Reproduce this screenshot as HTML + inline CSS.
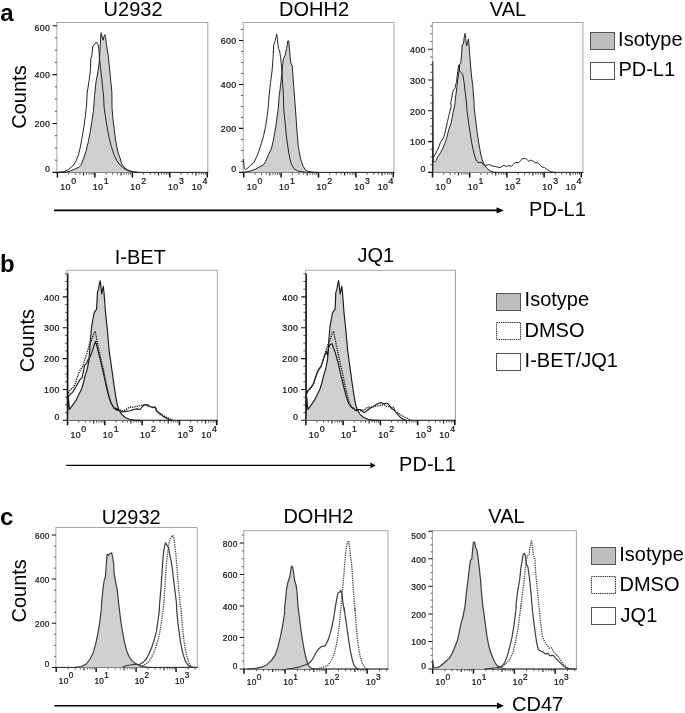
<!DOCTYPE html>
<html><head><meta charset="utf-8"><title>Figure</title>
<style>
html,body{margin:0;padding:0;background:#fff;}
body{width:685px;height:713px;overflow:hidden;font-family:"Liberation Sans",sans-serif;}
svg{display:block;will-change:transform;filter:grayscale(1);}
svg text{font-family:"Liberation Sans",sans-serif;}
svg text.t{fill:#111;stroke:#111;stroke-width:.22px;}
</style></head><body>
<svg width="685" height="713" viewBox="0 0 685 713">
<rect width="685" height="713" fill="#fff"/>
<rect x="56.85" y="22.5" width="150.95" height="149.90" fill="none" stroke="#a6a6a6" stroke-width="1"/>
<path d="M56.45,172.4H208.3" stroke="#2a2a2a" stroke-width="1.0"/>
<path d="M57.40,172.4v5.00M94.87,172.4v5.00M132.34,172.4v5.00M169.81,172.4v5.00M207.28,172.4v5.00" stroke="#0c0c0c" stroke-width="1.50"/>
<path d="M83.59,172.4v3.20M121.06,172.4v3.20M158.53,172.4v3.20M196.00,172.4v3.20" stroke="#1a1a1a" stroke-width="1.15"/>
<path d="M68.68,172.4v2.30M75.28,172.4v2.30M79.96,172.4v2.30M86.56,172.4v2.30M89.07,172.4v2.30M91.24,172.4v2.30M93.16,172.4v2.30M106.15,172.4v2.30M112.75,172.4v2.30M117.43,172.4v2.30M124.03,172.4v2.30M126.54,172.4v2.30M128.71,172.4v2.30M130.63,172.4v2.30M143.62,172.4v2.30M150.22,172.4v2.30M154.90,172.4v2.30M161.50,172.4v2.30M164.01,172.4v2.30M166.18,172.4v2.30M168.10,172.4v2.30M181.09,172.4v2.30M187.69,172.4v2.30M192.37,172.4v2.30M198.97,172.4v2.30M201.48,172.4v2.30M203.65,172.4v2.30M205.57,172.4v2.30" stroke="#2a2a2a" stroke-width="0.80"/>
<text x="60.33" y="189.60" font-size="8.80" letter-spacing="0.40" class="t">10</text>
<text x="71.20" y="183.80" font-size="8.80" class="t">0</text>
<text x="92.80" y="189.60" font-size="8.80" letter-spacing="0.40" class="t">10</text>
<text x="103.67" y="183.80" font-size="8.80" class="t">1</text>
<text x="130.27" y="189.60" font-size="8.80" letter-spacing="0.40" class="t">10</text>
<text x="141.14" y="183.80" font-size="8.80" class="t">2</text>
<text x="168.04" y="189.60" font-size="8.80" letter-spacing="0.40" class="t">10</text>
<text x="178.91" y="183.80" font-size="8.80" class="t">3</text>
<text x="191.71" y="189.60" font-size="8.80" letter-spacing="0.40" class="t">10</text>
<text x="202.58" y="183.80" font-size="8.80" class="t">4</text>
<text x="50.30" y="30.90" font-size="8.80" letter-spacing="0.40" text-anchor="end" class="t">600</text>
<text x="50.30" y="78.30" font-size="8.80" letter-spacing="0.40" text-anchor="end" class="t">400</text>
<text x="50.30" y="127.20" font-size="8.80" letter-spacing="0.40" text-anchor="end" class="t">200</text>
<text x="50.30" y="172.20" font-size="8.80" letter-spacing="0.40" text-anchor="end" class="t">0</text>
<path d="M52.55,25.70h4.30M52.55,74.60h4.30M52.55,123.50h4.30M52.55,172.40h4.30" stroke="#0c0c0c" stroke-width="1.10"/>
<path d="M54.75,160.18h2.10M54.75,147.95h2.10M54.75,135.73h2.10M54.75,111.28h2.10M54.75,99.05h2.10M54.75,86.83h2.10M54.75,62.38h2.10M54.75,50.15h2.10M54.75,37.93h2.10" stroke="#3a3a3a" stroke-width="0.85"/>
<path d="M57.6,172.4 L65.8,172.2 L70.8,170.9 L75.2,168.8 L79.0,167.2 L80.9,165.3 L83.4,159.0 L85.9,151.5 L88.4,141.4 L90.3,131.4 L91.9,121.3 L93.4,111.3 L94.6,95.2 L96.1,81.3 L98.0,71.2 L99.2,62.4 L99.9,52.3 L100.5,39.7 L101.1,32.7 L102.2,37.1 L103.0,40.3 L103.9,36.5 L104.9,34.6 L105.8,39.0 L106.4,44.7 L108.1,54.8 L109.3,66.2 L110.6,78.8 L111.9,92.7 L112.0,107.5 L112.9,118.8 L114.2,128.9 L115.4,138.9 L117.0,147.7 L118.5,154.0 L120.4,159.0 L121.7,164.0 L124.2,167.2 L127.3,169.7 L131.1,171.3 L134.9,172.2 L139.9,172.4" fill="#d0d0d0" stroke="#1a1a1a" stroke-width="0.95" stroke-linejoin="round"/>
<path d="M57.6,172.4 L63.3,171.8 L68.3,169.7 L72.7,165.9 L75.8,161.5 L78.4,155.2 L80.2,147.7 L82.1,137.7 L84.0,126.4 L85.3,116.3 L86.5,106.3 L87.2,92.7 L89.2,80.1 L90.4,70.0 L90.8,58.6 L91.7,56.1 L92.9,46.0 L94.8,44.1 L96.3,42.0 L98.0,44.7 L98.9,49.8 L99.6,59.9 L101.1,72.5 L102.4,85.1 L103.7,97.8 L104.1,107.5 L105.4,116.3 L107.2,127.6 L109.1,137.7 L111.6,147.7 L114.2,155.2 L116.7,160.3 L119.2,164.0 L122.3,167.2 L126.1,169.7 L129.8,171.3 L133.6,172.1 L138.0,172.4" fill="none" stroke="#1a1a1a" stroke-width="0.95" stroke-linejoin="round"/>
<rect x="243.2" y="22.5" width="150.80" height="149.90" fill="none" stroke="#a6a6a6" stroke-width="1"/>
<path d="M242.79999999999998,172.4H394.5" stroke="#2a2a2a" stroke-width="1.0"/>
<path d="M243.70,172.4v5.00M281.10,172.4v5.00M318.50,172.4v5.00M355.90,172.4v5.00M393.30,172.4v5.00" stroke="#0c0c0c" stroke-width="1.50"/>
<path d="M269.84,172.4v3.20M307.24,172.4v3.20M344.64,172.4v3.20M382.04,172.4v3.20" stroke="#1a1a1a" stroke-width="1.15"/>
<path d="M254.96,172.4v2.30M261.54,172.4v2.30M266.22,172.4v2.30M272.80,172.4v2.30M275.31,172.4v2.30M277.48,172.4v2.30M279.39,172.4v2.30M292.36,172.4v2.30M298.94,172.4v2.30M303.62,172.4v2.30M310.20,172.4v2.30M312.71,172.4v2.30M314.88,172.4v2.30M316.79,172.4v2.30M329.76,172.4v2.30M336.34,172.4v2.30M341.02,172.4v2.30M347.60,172.4v2.30M350.11,172.4v2.30M352.28,172.4v2.30M354.19,172.4v2.30M367.16,172.4v2.30M373.74,172.4v2.30M378.42,172.4v2.30M385.00,172.4v2.30M387.51,172.4v2.30M389.68,172.4v2.30M391.59,172.4v2.30" stroke="#2a2a2a" stroke-width="0.80"/>
<text x="246.63" y="189.60" font-size="8.80" letter-spacing="0.40" class="t">10</text>
<text x="257.50" y="183.80" font-size="8.80" class="t">0</text>
<text x="279.03" y="189.60" font-size="8.80" letter-spacing="0.40" class="t">10</text>
<text x="289.90" y="183.80" font-size="8.80" class="t">1</text>
<text x="316.43" y="189.60" font-size="8.80" letter-spacing="0.40" class="t">10</text>
<text x="327.30" y="183.80" font-size="8.80" class="t">2</text>
<text x="354.13" y="189.60" font-size="8.80" letter-spacing="0.40" class="t">10</text>
<text x="365.00" y="183.80" font-size="8.80" class="t">3</text>
<text x="377.73" y="189.60" font-size="8.80" letter-spacing="0.40" class="t">10</text>
<text x="388.60" y="183.80" font-size="8.80" class="t">4</text>
<text x="236.65" y="44.20" font-size="8.80" letter-spacing="0.40" text-anchor="end" class="t">600</text>
<text x="236.65" y="88.20" font-size="8.80" letter-spacing="0.40" text-anchor="end" class="t">400</text>
<text x="236.65" y="132.10" font-size="8.80" letter-spacing="0.40" text-anchor="end" class="t">200</text>
<text x="236.65" y="172.20" font-size="8.80" letter-spacing="0.40" text-anchor="end" class="t">0</text>
<path d="M238.90,40.50h4.30M238.90,84.50h4.30M238.90,128.40h4.30M238.90,172.40h4.30" stroke="#0c0c0c" stroke-width="1.10"/>
<path d="M241.10,161.41h2.10M241.10,150.42h2.10M241.10,139.43h2.10M241.10,117.45h2.10M241.10,106.46h2.10M241.10,95.47h2.10M241.10,73.49h2.10M241.10,62.50h2.10M241.10,51.51h2.10M241.10,29.53h2.10" stroke="#3a3a3a" stroke-width="0.85"/>
<path d="M243.3,172.4 L245.5,172.2 L250.6,170.9 L255.6,169.1 L260.0,166.5 L263.7,164.7 L265.6,161.5 L268.1,155.2 L271.3,149.0 L273.1,141.4 L275.0,131.4 L276.7,120.1 L278.2,108.8 L279.0,97.8 L280.6,85.1 L281.9,72.5 L282.8,63.7 L283.4,58.6 L285.1,55.5 L286.6,48.5 L287.8,40.9 L288.7,40.9 L289.5,49.8 L290.4,59.9 L291.0,63.7 L292.2,65.6 L292.9,75.0 L293.8,87.7 L294.8,100.3 L295.5,110.0 L296.4,122.6 L297.3,135.2 L298.3,146.4 L299.8,155.2 L301.4,161.5 L303.3,166.5 L305.2,169.7 L307.7,171.3 L312.1,172.2 L318.4,172.4" fill="#d0d0d0" stroke="#1a1a1a" stroke-width="0.95" stroke-linejoin="round"/>
<path d="M243.3,159.0 L244.3,168.4 L245.5,169.7 L248.0,167.8 L250.6,165.3 L253.7,162.8 L256.2,157.8 L258.7,151.5 L261.2,143.9 L263.7,135.2 L265.6,126.4 L267.1,116.3 L268.4,106.3 L268.9,97.8 L270.5,82.6 L272.0,71.2 L273.1,57.4 L273.7,44.7 L275.2,40.9 L276.7,34.0 L277.5,39.7 L278.4,48.5 L279.6,51.0 L280.6,57.4 L281.5,66.2 L282.4,78.8 L283.4,95.2 L283.8,110.0 L285.1,122.6 L286.3,135.2 L287.6,145.2 L289.2,155.2 L290.7,162.2 L292.6,166.5 L294.5,169.1 L297.6,170.9 L302.0,171.8 L306.4,172.3 L313.3,172.4" fill="none" stroke="#1a1a1a" stroke-width="0.95" stroke-linejoin="round"/>
<rect x="432.4" y="22.5" width="150.50" height="149.90" fill="none" stroke="#a6a6a6" stroke-width="1"/>
<path d="M432.0,172.4H583.4" stroke="#2a2a2a" stroke-width="1.0"/>
<path d="M432.50,172.4v5.00M469.70,172.4v5.00M506.90,172.4v5.00M544.10,172.4v5.00M581.30,172.4v5.00" stroke="#0c0c0c" stroke-width="1.50"/>
<path d="M458.50,172.4v3.20M495.70,172.4v3.20M532.90,172.4v3.20M570.10,172.4v3.20" stroke="#1a1a1a" stroke-width="1.15"/>
<path d="M443.70,172.4v2.30M450.25,172.4v2.30M454.90,172.4v2.30M461.45,172.4v2.30M463.94,172.4v2.30M466.09,172.4v2.30M468.00,172.4v2.30M480.90,172.4v2.30M487.45,172.4v2.30M492.10,172.4v2.30M498.65,172.4v2.30M501.14,172.4v2.30M503.29,172.4v2.30M505.20,172.4v2.30M518.10,172.4v2.30M524.65,172.4v2.30M529.30,172.4v2.30M535.85,172.4v2.30M538.34,172.4v2.30M540.49,172.4v2.30M542.40,172.4v2.30M555.30,172.4v2.30M561.85,172.4v2.30M566.50,172.4v2.30M573.05,172.4v2.30M575.54,172.4v2.30M577.69,172.4v2.30M579.60,172.4v2.30" stroke="#2a2a2a" stroke-width="0.80"/>
<text x="435.43" y="189.60" font-size="8.80" letter-spacing="0.40" class="t">10</text>
<text x="446.30" y="183.80" font-size="8.80" class="t">0</text>
<text x="467.63" y="189.60" font-size="8.80" letter-spacing="0.40" class="t">10</text>
<text x="478.50" y="183.80" font-size="8.80" class="t">1</text>
<text x="504.83" y="189.60" font-size="8.80" letter-spacing="0.40" class="t">10</text>
<text x="515.70" y="183.80" font-size="8.80" class="t">2</text>
<text x="542.33" y="189.60" font-size="8.80" letter-spacing="0.40" class="t">10</text>
<text x="553.20" y="183.80" font-size="8.80" class="t">3</text>
<text x="565.73" y="189.60" font-size="8.80" letter-spacing="0.40" class="t">10</text>
<text x="576.60" y="183.80" font-size="8.80" class="t">4</text>
<text x="425.85" y="52.90" font-size="8.80" letter-spacing="0.40" text-anchor="end" class="t">400</text>
<text x="425.85" y="83.70" font-size="8.80" letter-spacing="0.40" text-anchor="end" class="t">300</text>
<text x="425.85" y="114.50" font-size="8.80" letter-spacing="0.40" text-anchor="end" class="t">200</text>
<text x="425.85" y="145.30" font-size="8.80" letter-spacing="0.40" text-anchor="end" class="t">100</text>
<text x="425.85" y="172.20" font-size="8.80" letter-spacing="0.40" text-anchor="end" class="t">0</text>
<path d="M428.10,49.20h4.30M428.10,80.00h4.30M428.10,110.80h4.30M428.10,141.60h4.30M428.10,172.40h4.30" stroke="#0c0c0c" stroke-width="1.10"/>
<path d="M430.30,164.70h2.10M430.30,157.00h2.10M430.30,149.30h2.10M430.30,133.90h2.10M430.30,126.20h2.10M430.30,118.50h2.10M430.30,103.10h2.10M430.30,95.40h2.10M430.30,87.70h2.10M430.30,72.30h2.10M430.30,64.60h2.10M430.30,56.90h2.10M430.30,41.50h2.10M430.30,33.80h2.10M430.30,26.10h2.10" stroke="#3a3a3a" stroke-width="0.85"/>
<path d="M432.45,61.5L432.15,172.4L433.75,172.4L433.35,61.5Z" fill="#0c0c0c"/>
<path d="M432.9,172.4 L433.0,160.3 L434.3,162.2 L436.2,160.3 L438.0,156.5 L440.6,152.7 L443.1,147.7 L444.9,143.3 L446.8,137.7 L448.7,130.1 L451.2,122.6 L453.1,112.5 L455.0,103.8 L455.2,100.3 L456.8,87.7 L458.4,75.0 L459.7,64.9 L460.9,62.4 L461.6,53.6 L462.2,44.7 L463.5,44.1 L464.1,38.4 L465.0,33.4 L465.7,38.4 L466.6,46.0 L467.5,42.8 L468.4,39.0 L469.1,46.0 L470.1,59.9 L471.4,75.0 L472.7,85.1 L473.9,100.3 L474.2,107.5 L475.5,118.8 L477.0,131.4 L478.9,143.9 L480.7,154.0 L482.6,160.9 L484.5,165.3 L487.0,168.4 L490.1,170.9 L493.3,172.2 L496.4,172.4" fill="#d0d0d0" stroke="#1a1a1a" stroke-width="0.95" stroke-linejoin="round"/>
<path d="M433.0,157.8 L435.5,154.0 L438.0,149.0 L440.6,142.1 L443.7,137.7 L445.6,130.1 L447.5,121.3 L449.3,113.8 L451.2,106.3 L450.8,102.8 L453.0,91.4 L455.2,87.7 L456.5,81.3 L457.8,71.2 L458.8,64.9 L459.7,70.6 L460.9,72.5 L462.8,74.4 L464.1,82.6 L465.4,94.0 L466.6,104.1 L466.9,110.0 L468.4,121.3 L470.1,132.6 L471.9,143.9 L473.8,152.7 L475.7,159.0 L477.6,162.2 L479.5,162.8 L481.4,162.2 L483.2,164.7 L485.8,165.3 L488.3,164.7 L490.1,164.7 L492.0,165.9 L495.2,166.5 L498.3,167.2 L500.0,167.6 L503.8,165.4 L506.3,166.4 L508.8,165.5 L511.3,166.4 L513.2,164.5 L515.1,162.6 L518.8,162.6 L520.7,160.7 L522.6,158.6 L525.7,158.6 L527.6,160.1 L528.9,161.3 L530.8,160.1 L533.3,161.3 L535.1,162.6 L537.7,162.8 L540.2,165.1 L542.1,167.0 L544.6,167.6 L547.1,169.5 L549.6,171.1 L552.1,172.1 L555.2,172.4" fill="none" stroke="#1a1a1a" stroke-width="0.95" stroke-linejoin="round"/>
<rect x="590.5" y="32.5" width="24" height="17" fill="#bebebe" stroke="#555" stroke-width="1"/>
<rect x="590.5" y="62.5" width="24" height="17" fill="#fff" stroke="#555" stroke-width="1"/>
<text x="618.1" y="45.6" font-size="20" >Isotype</text>
<text x="618.4" y="75.8" font-size="20" >PD-L1</text>
<text x="103.6" y="16.3" font-size="20" >U2932</text>
<text x="279.1" y="16.3" font-size="20" >DOHH2</text>
<text x="489.8" y="16.3" font-size="20" >VAL</text>
<text x="0.2" y="21.1" font-size="24" font-weight="bold">a</text>
<text transform="translate(25.5,128.7) rotate(-90)" font-size="20">Counts</text>
<path d="M54,210.4H498" stroke="#000" stroke-width="1.7"/><path d="M496.6,207.2L503.8,210.4L496.6,213.6Z"/>
<text x="529.1" y="216.2" font-size="20" >PD-L1</text>
<rect x="67.05" y="270.3" width="150.25" height="150.00" fill="none" stroke="#a6a6a6" stroke-width="1"/>
<path d="M66.64999999999999,420.3H217.8" stroke="#2a2a2a" stroke-width="1.0"/>
<path d="M67.55,420.3v5.00M104.85,420.3v5.00M142.15,420.3v5.00M179.45,420.3v5.00M216.75,420.3v5.00" stroke="#0c0c0c" stroke-width="1.50"/>
<path d="M93.62,420.3v3.20M130.92,420.3v3.20M168.22,420.3v3.20M205.52,420.3v3.20" stroke="#1a1a1a" stroke-width="1.15"/>
<path d="M78.78,420.3v2.30M85.35,420.3v2.30M90.01,420.3v2.30M96.58,420.3v2.30M99.07,420.3v2.30M101.24,420.3v2.30M103.14,420.3v2.30M116.08,420.3v2.30M122.65,420.3v2.30M127.31,420.3v2.30M133.88,420.3v2.30M136.37,420.3v2.30M138.54,420.3v2.30M140.44,420.3v2.30M153.38,420.3v2.30M159.95,420.3v2.30M164.61,420.3v2.30M171.18,420.3v2.30M173.67,420.3v2.30M175.84,420.3v2.30M177.74,420.3v2.30M190.68,420.3v2.30M197.25,420.3v2.30M201.91,420.3v2.30M208.48,420.3v2.30M210.97,420.3v2.30M213.14,420.3v2.30M215.04,420.3v2.30" stroke="#2a2a2a" stroke-width="0.80"/>
<text x="70.48" y="437.50" font-size="8.80" letter-spacing="0.40" class="t">10</text>
<text x="81.35" y="431.70" font-size="8.80" class="t">0</text>
<text x="102.78" y="437.50" font-size="8.80" letter-spacing="0.40" class="t">10</text>
<text x="113.65" y="431.70" font-size="8.80" class="t">1</text>
<text x="140.08" y="437.50" font-size="8.80" letter-spacing="0.40" class="t">10</text>
<text x="150.95" y="431.70" font-size="8.80" class="t">2</text>
<text x="177.68" y="437.50" font-size="8.80" letter-spacing="0.40" class="t">10</text>
<text x="188.55" y="431.70" font-size="8.80" class="t">3</text>
<text x="201.18" y="437.50" font-size="8.80" letter-spacing="0.40" class="t">10</text>
<text x="212.05" y="431.70" font-size="8.80" class="t">4</text>
<text x="59.80" y="300.60" font-size="8.80" letter-spacing="0.40" text-anchor="end" class="t">400</text>
<text x="59.80" y="331.45" font-size="8.80" letter-spacing="0.40" text-anchor="end" class="t">300</text>
<text x="59.80" y="362.30" font-size="8.80" letter-spacing="0.40" text-anchor="end" class="t">200</text>
<text x="59.80" y="393.15" font-size="8.80" letter-spacing="0.40" text-anchor="end" class="t">100</text>
<text x="59.80" y="420.10" font-size="8.80" letter-spacing="0.40" text-anchor="end" class="t">0</text>
<path d="M62.75,296.90h4.30M62.75,327.75h4.30M62.75,358.60h4.30M62.75,389.45h4.30M62.75,420.30h4.30" stroke="#0c0c0c" stroke-width="1.10"/>
<path d="M64.95,412.59h2.10M64.95,404.88h2.10M64.95,397.16h2.10M64.95,381.74h2.10M64.95,374.03h2.10M64.95,366.31h2.10M64.95,350.89h2.10M64.95,343.18h2.10M64.95,335.46h2.10M64.95,320.04h2.10M64.95,312.33h2.10M64.95,304.61h2.10M64.95,289.19h2.10M64.95,281.48h2.10M64.95,273.76h2.10" stroke="#3a3a3a" stroke-width="0.85"/>
<path d="M67.10,273.6L66.80,420.3L68.40,420.3L68.45,273.6Z" fill="#0c0c0c"/>
<path d="M67.6,420.3 L68.2,396.9 L69.5,409.5 L72.6,405.1 L75.8,400.7 L78.9,394.3 L81.5,389.3 L83.4,383.0 L85.2,375.4 L87.2,369.1 L89.0,360.2 L90.3,340.7 L91.6,326.8 L93.1,318.0 L94.1,312.9 L96.6,309.1 L97.0,301.6 L97.4,292.7 L98.5,288.9 L99.4,283.9 L100.2,280.7 L100.9,286.4 L101.7,294.0 L102.5,290.2 L103.3,286.4 L103.9,291.5 L104.4,297.8 L105.5,311.7 L107.3,329.3 L109.2,350.8 L111.8,369.1 L113.7,383.0 L115.6,395.6 L117.5,405.7 L119.3,410.8 L121.9,414.6 L125.7,417.7 L129.4,419.3 L134.5,420.4 L140.0,420.3" fill="#d0d0d0" stroke="#1a1a1a" stroke-width="1.15" stroke-linejoin="round"/>
<path d="M68.2,393.1 L70.1,389.9 L72.6,388.0 L75.2,384.2 L77.0,377.9 L78.9,372.9 L80.8,369.1 L82.7,366.6 L84.0,362.1 L85.9,356.5 L87.8,350.1 L89.7,343.8 L91.6,340.1 L93.1,335.6 L94.1,333.1 L95.1,331.2 L95.9,334.4 L96.6,338.8 L97.9,345.1 L99.8,353.9 L101.7,362.8 L103.6,370.4 L106.1,383.0 L108.6,394.3 L110.5,401.9 L113.0,407.0 L116.2,409.8 L118.8,409.5 L122.5,410.8 L126.3,409.5 L129.5,407.0 L132.6,407.4 L136.4,406.4 L140.1,405.7 L143.3,404.9 L146.4,405.1 L147.7,406.4 L150.2,406.6 L153.3,407.6 L155.2,407.4 L157.1,411.4 L159.6,412.9 L162.7,415.1 L165.9,417.0 L169.0,418.3 L171.5,419.9 L172.8,420.3" fill="none" stroke="#1a1a1a" stroke-width="1.35" stroke-dasharray="1.3,1.0" stroke-linejoin="round"/>
<path d="M68.2,396.9 L70.1,394.3 L72.6,392.4 L75.2,388.0 L77.7,383.6 L80.2,379.2 L82.1,377.9 L83.4,371.6 L84.6,365.3 L86.5,363.4 L88.4,359.0 L90.3,356.5 L92.2,351.4 L94.1,345.1 L95.7,341.3 L97.2,347.6 L99.1,355.2 L101.0,362.8 L103.6,374.1 L106.1,385.5 L108.6,395.6 L111.1,403.2 L114.3,408.2 L117.5,410.5 L115.7,408.2 L118.8,410.1 L122.5,412.0 L126.3,411.4 L130.1,410.8 L133.8,409.5 L137.0,408.9 L140.1,409.5 L142.0,407.0 L143.9,405.1 L146.4,404.5 L148.3,405.1 L150.2,406.4 L152.7,407.6 L154.6,407.0 L155.8,408.2 L157.1,411.4 L159.0,413.3 L161.5,415.1 L164.0,417.0 L166.5,418.3 L169.0,419.6 L172.2,420.3" fill="none" stroke="#1a1a1a" stroke-width="1.15" stroke-linejoin="round"/>
<rect x="305.5" y="270.3" width="150.00" height="150.00" fill="none" stroke="#a6a6a6" stroke-width="1"/>
<path d="M305.1,420.3H456.0" stroke="#2a2a2a" stroke-width="1.0"/>
<path d="M305.85,420.3v5.00M343.10,420.3v5.00M380.35,420.3v5.00M417.60,420.3v5.00M454.85,420.3v5.00" stroke="#0c0c0c" stroke-width="1.50"/>
<path d="M331.89,420.3v3.20M369.14,420.3v3.20M406.39,420.3v3.20M443.64,420.3v3.20" stroke="#1a1a1a" stroke-width="1.15"/>
<path d="M317.06,420.3v2.30M323.62,420.3v2.30M328.28,420.3v2.30M334.84,420.3v2.30M337.33,420.3v2.30M339.49,420.3v2.30M341.40,420.3v2.30M354.31,420.3v2.30M360.87,420.3v2.30M365.53,420.3v2.30M372.09,420.3v2.30M374.58,420.3v2.30M376.74,420.3v2.30M378.65,420.3v2.30M391.56,420.3v2.30M398.12,420.3v2.30M402.78,420.3v2.30M409.34,420.3v2.30M411.83,420.3v2.30M413.99,420.3v2.30M415.90,420.3v2.30M428.81,420.3v2.30M435.37,420.3v2.30M440.03,420.3v2.30M446.59,420.3v2.30M449.08,420.3v2.30M451.24,420.3v2.30M453.15,420.3v2.30" stroke="#2a2a2a" stroke-width="0.80"/>
<text x="308.78" y="437.50" font-size="8.80" letter-spacing="0.40" class="t">10</text>
<text x="319.65" y="431.70" font-size="8.80" class="t">0</text>
<text x="341.03" y="437.50" font-size="8.80" letter-spacing="0.40" class="t">10</text>
<text x="351.90" y="431.70" font-size="8.80" class="t">1</text>
<text x="378.28" y="437.50" font-size="8.80" letter-spacing="0.40" class="t">10</text>
<text x="389.15" y="431.70" font-size="8.80" class="t">2</text>
<text x="415.83" y="437.50" font-size="8.80" letter-spacing="0.40" class="t">10</text>
<text x="426.70" y="431.70" font-size="8.80" class="t">3</text>
<text x="439.28" y="437.50" font-size="8.80" letter-spacing="0.40" class="t">10</text>
<text x="450.15" y="431.70" font-size="8.80" class="t">4</text>
<text x="298.25" y="300.60" font-size="8.80" letter-spacing="0.40" text-anchor="end" class="t">400</text>
<text x="298.25" y="331.45" font-size="8.80" letter-spacing="0.40" text-anchor="end" class="t">300</text>
<text x="298.25" y="362.30" font-size="8.80" letter-spacing="0.40" text-anchor="end" class="t">200</text>
<text x="298.25" y="393.15" font-size="8.80" letter-spacing="0.40" text-anchor="end" class="t">100</text>
<text x="298.25" y="420.10" font-size="8.80" letter-spacing="0.40" text-anchor="end" class="t">0</text>
<path d="M301.20,296.90h4.30M301.20,327.75h4.30M301.20,358.60h4.30M301.20,389.45h4.30M301.20,420.30h4.30" stroke="#0c0c0c" stroke-width="1.10"/>
<path d="M303.40,412.59h2.10M303.40,404.88h2.10M303.40,397.16h2.10M303.40,381.74h2.10M303.40,374.03h2.10M303.40,366.31h2.10M303.40,350.89h2.10M303.40,343.18h2.10M303.40,335.46h2.10M303.40,320.04h2.10M303.40,312.33h2.10M303.40,304.61h2.10M303.40,289.19h2.10M303.40,281.48h2.10M303.40,273.76h2.10" stroke="#3a3a3a" stroke-width="0.85"/>
<path d="M305.55,273.6L305.25,420.3L306.85,420.3L306.90,273.6Z" fill="#0c0c0c"/>
<path d="M306.0,420.3 L306.7,396.9 L307.9,409.5 L311.1,405.1 L314.2,400.7 L317.4,394.3 L319.9,389.3 L321.8,383.0 L323.7,375.4 L325.6,369.1 L327.5,360.2 L328.8,340.7 L330.0,326.8 L331.5,318.0 L332.5,312.9 L335.1,309.1 L335.4,301.6 L335.8,292.7 L337.0,288.9 L337.8,283.9 L338.6,280.7 L339.4,286.4 L340.1,294.0 L341.0,290.2 L341.8,286.4 L342.4,291.5 L342.9,297.8 L343.9,311.7 L345.8,329.3 L347.7,350.8 L350.2,369.1 L352.1,383.0 L354.0,395.6 L355.9,405.7 L357.8,410.8 L360.3,414.6 L364.1,417.7 L367.9,419.3 L372.9,420.4 L378.4,420.3" fill="#d0d0d0" stroke="#1a1a1a" stroke-width="1.15" stroke-linejoin="round"/>
<path d="M306.7,393.1 L308.5,389.9 L311.1,388.0 L313.6,384.2 L315.5,377.9 L317.4,372.9 L319.3,369.1 L321.2,366.6 L322.4,362.1 L324.3,356.5 L326.2,350.1 L328.1,343.8 L330.0,340.1 L331.5,335.6 L332.5,333.1 L333.5,331.2 L334.3,334.4 L335.1,338.8 L336.3,345.1 L338.2,353.9 L340.1,362.8 L342.0,370.4 L344.5,383.0 L347.1,394.3 L349.0,401.9 L351.5,407.0 L354.6,409.8 L357.2,409.5 L361.0,410.8 L364.8,409.5 L367.9,407.0 L371.0,407.4 L374.8,406.4 L378.6,405.7 L381.7,404.9 L384.9,405.1 L386.1,406.4 L388.6,406.6 L391.8,407.6 L393.6,407.4 L395.5,411.4 L398.0,412.9 L401.2,415.1 L404.3,417.0 L407.5,418.3 L410.0,419.9 L411.2,420.3" fill="none" stroke="#1a1a1a" stroke-width="1.35" stroke-dasharray="1.3,1.0" stroke-linejoin="round"/>
<path d="M306.2,394.3 L308.1,390.6 L310.6,388.0 L313.1,384.2 L315.1,378.6 L316.9,372.9 L318.8,369.1 L320.7,366.6 L322.6,362.1 L324.5,355.8 L326.4,351.4 L327.7,355.2 L328.6,347.6 L330.2,344.5 L332.1,343.8 L333.4,347.6 L335.2,352.7 L337.1,359.0 L339.0,366.6 L340.9,375.4 L343.4,385.5 L346.0,395.6 L348.5,403.2 L351.0,407.0 L353.8,408.6 L356.2,410.8 L358.7,409.5 L360.6,409.5 L362.4,411.4 L364.3,412.4 L366.8,410.8 L370.0,408.2 L373.1,406.4 L376.2,404.5 L378.8,403.2 L381.3,402.6 L383.8,403.9 L386.3,403.2 L388.2,403.9 L390.1,406.4 L391.9,408.9 L393.8,409.5 L395.7,412.0 L398.2,415.1 L400.7,417.7 L403.2,419.2 L405.8,420.3" fill="none" stroke="#1a1a1a" stroke-width="1.15" stroke-linejoin="round"/>
<rect x="496.5" y="293.5" width="24" height="17" fill="#bebebe" stroke="#555" stroke-width="1"/>
<rect x="496.5" y="322.5" width="24" height="17" fill="#fff" stroke="#333" stroke-width="1" stroke-dasharray="1.4,0.8"/>
<rect x="496.5" y="353.5" width="24" height="17" fill="#fff" stroke="#555" stroke-width="1"/>
<text x="524.6" y="306.2" font-size="20" >Isotype</text>
<text x="524.5" y="336.9" font-size="20" >DMSO</text>
<text x="524.6" y="367.4" font-size="20" >I-BET/JQ1</text>
<text x="114.7" y="263.6" font-size="20" >I-BET</text>
<text x="357.4" y="262.2" font-size="20" >JQ1</text>
<text x="0.0" y="271.6" font-size="24" font-weight="bold">b</text>
<text transform="translate(34.0,372.3) rotate(-90)" font-size="20">Counts</text>
<path d="M66.2,465.4H371" stroke="#000" stroke-width="1.4"/><path d="M370.4,462.5L375.6,465.4L370.4,468.3Z"/>
<text x="399.1" y="471.2" font-size="20" >PD-L1</text>
<rect x="55.9" y="527.5" width="141.40" height="139.90" fill="none" stroke="#a6a6a6" stroke-width="1"/>
<path d="M55.5,667.4H197.8" stroke="#2a2a2a" stroke-width="1.0"/>
<path d="M56.20,667.4v4.65M96.15,667.4v4.65M136.10,667.4v4.65M176.05,667.4v4.65" stroke="#0c0c0c" stroke-width="1.40"/>
<path d="M84.12,667.4v2.98M124.07,667.4v2.98M164.02,667.4v2.98" stroke="#1a1a1a" stroke-width="1.07"/>
<path d="M68.23,667.4v2.14M75.26,667.4v2.14M80.25,667.4v2.14M87.29,667.4v2.14M89.96,667.4v2.14M92.28,667.4v2.14M94.32,667.4v2.14M108.18,667.4v2.14M115.21,667.4v2.14M120.20,667.4v2.14M127.24,667.4v2.14M129.91,667.4v2.14M132.23,667.4v2.14M134.27,667.4v2.14M148.13,667.4v2.14M155.16,667.4v2.14M160.15,667.4v2.14M167.19,667.4v2.14M169.86,667.4v2.14M172.18,667.4v2.14M174.22,667.4v2.14M188.08,667.4v2.14M195.11,667.4v2.14" stroke="#2a2a2a" stroke-width="0.74"/>
<text x="58.86" y="683.86" font-size="8.18" letter-spacing="0.37" class="t">10</text>
<text x="68.68" y="678.00" font-size="8.18" class="t">0</text>
<text x="94.44" y="683.86" font-size="8.18" letter-spacing="0.37" class="t">10</text>
<text x="104.26" y="678.00" font-size="8.18" class="t">1</text>
<text x="134.67" y="683.86" font-size="8.18" letter-spacing="0.37" class="t">10</text>
<text x="144.49" y="678.00" font-size="8.18" class="t">2</text>
<text x="174.90" y="683.86" font-size="8.18" letter-spacing="0.37" class="t">10</text>
<text x="184.72" y="678.00" font-size="8.18" class="t">3</text>
<text x="49.77" y="538.89" font-size="8.18" letter-spacing="0.37" text-anchor="end" class="t">600</text>
<text x="49.77" y="582.99" font-size="8.18" letter-spacing="0.37" text-anchor="end" class="t">400</text>
<text x="49.77" y="627.19" font-size="8.18" letter-spacing="0.37" text-anchor="end" class="t">200</text>
<text x="49.77" y="667.20" font-size="8.18" letter-spacing="0.37" text-anchor="end" class="t">0</text>
<path d="M51.90,535.00h4.00M51.90,579.10h4.00M51.90,623.30h4.00M51.90,667.40h4.00" stroke="#0c0c0c" stroke-width="1.02"/>
<path d="M53.95,656.37h1.95M53.95,645.34h1.95M53.95,634.31h1.95M53.95,612.25h1.95M53.95,601.22h1.95M53.95,590.19h1.95M53.95,568.13h1.95M53.95,557.10h1.95M53.95,546.07h1.95" stroke="#3a3a3a" stroke-width="0.79"/>
<path d="M75.0,667.4 L81.3,666.5 L86.3,664.0 L90.1,659.0 L93.2,652.7 L95.7,643.9 L97.6,635.1 L99.5,623.9 L101.1,611.3 L101.6,602.8 L103.1,587.6 L104.3,580.0 L105.3,577.5 L106.0,568.7 L106.6,559.8 L107.2,554.1 L108.5,555.4 L109.8,553.5 L111.7,552.9 L112.7,557.3 L113.6,563.6 L114.2,573.7 L115.7,582.6 L117.3,590.1 L118.6,602.8 L119.6,611.3 L120.8,621.3 L122.7,632.6 L124.6,642.7 L126.5,650.2 L129.0,656.5 L132.2,660.9 L135.3,663.4 L139.1,665.3 L142.8,666.5 L147.8,667.4" fill="#d0d0d0" stroke="#3c3c3c" stroke-width="1.2" stroke-linejoin="round"/>
<path d="M140.1,666.8 L143.8,665.3 L147.6,662.8 L150.7,659.0 L153.2,654.0 L155.8,647.7 L157.9,640.2 L159.9,631.4 L161.4,622.6 L162.7,612.5 L163.9,602.8 L164.8,587.6 L165.7,575.0 L166.7,561.1 L167.9,551.0 L169.2,542.1 L170.4,539.0 L172.7,535.2 L174.0,538.4 L174.9,545.9 L175.9,554.8 L177.0,568.7 L178.0,581.3 L179.0,592.7 L180.2,605.3 L180.9,607.5 L181.8,618.8 L182.8,630.1 L183.8,638.9 L185.0,647.7 L186.5,655.2 L188.4,661.5 L190.3,665.3 L192.8,667.2 L194.7,667.4" fill="none" stroke="#3c3c3c" stroke-width="1.3" stroke-dasharray="1.25,1.05" stroke-linejoin="round"/>
<path d="M122.7,667.4 L126.5,665.5 L130.3,665.0 L134.0,664.3 L135.0,664.3 L138.8,664.7 L142.6,662.8 L146.3,659.0 L149.5,652.7 L152.0,646.5 L154.5,638.9 L156.4,631.4 L157.9,621.3 L159.2,611.3 L159.7,602.8 L161.0,587.6 L162.2,569.9 L163.3,554.8 L164.4,547.2 L165.4,542.8 L166.7,544.7 L168.6,547.8 L169.8,554.8 L171.1,561.1 L172.3,568.7 L173.6,580.0 L174.9,590.1 L176.4,602.8 L176.7,610.0 L177.7,621.3 L179.0,631.4 L180.2,640.2 L181.8,649.0 L183.4,655.2 L185.3,660.9 L187.2,664.0 L189.7,666.5 L192.2,667.4" fill="none" stroke="#3c3c3c" stroke-width="1.2" stroke-linejoin="round"/>
<rect x="243.8" y="530.7" width="144.20" height="138.30" fill="none" stroke="#a6a6a6" stroke-width="1"/>
<path d="M243.4,669.0H388.5" stroke="#2a2a2a" stroke-width="1.0"/>
<path d="M244.00,669.0v4.79M285.05,669.0v4.79M326.10,669.0v4.79M367.15,669.0v4.79" stroke="#0c0c0c" stroke-width="1.44"/>
<path d="M272.69,669.0v3.06M313.74,669.0v3.06M354.79,669.0v3.06" stroke="#1a1a1a" stroke-width="1.10"/>
<path d="M256.36,669.0v2.20M263.59,669.0v2.20M268.71,669.0v2.20M275.94,669.0v2.20M278.69,669.0v2.20M281.07,669.0v2.20M283.17,669.0v2.20M297.41,669.0v2.20M304.64,669.0v2.20M309.76,669.0v2.20M316.99,669.0v2.20M319.74,669.0v2.20M322.12,669.0v2.20M324.22,669.0v2.20M338.46,669.0v2.20M345.69,669.0v2.20M350.81,669.0v2.20M358.04,669.0v2.20M360.79,669.0v2.20M363.17,669.0v2.20M365.27,669.0v2.20M379.51,669.0v2.20M386.74,669.0v2.20" stroke="#2a2a2a" stroke-width="0.77"/>
<text x="246.73" y="684.98" font-size="8.42" letter-spacing="0.38" class="t">10</text>
<text x="256.74" y="679.53" font-size="8.42" class="t">0</text>
<text x="283.28" y="684.98" font-size="8.42" letter-spacing="0.38" class="t">10</text>
<text x="293.29" y="679.53" font-size="8.42" class="t">1</text>
<text x="324.62" y="684.98" font-size="8.42" letter-spacing="0.38" class="t">10</text>
<text x="334.63" y="679.53" font-size="8.42" class="t">2</text>
<text x="365.95" y="684.98" font-size="8.42" letter-spacing="0.38" class="t">10</text>
<text x="375.97" y="679.53" font-size="8.42" class="t">3</text>
<text x="237.83" y="546.99" font-size="8.42" letter-spacing="0.38" text-anchor="end" class="t">800</text>
<text x="237.83" y="578.49" font-size="8.42" letter-spacing="0.38" text-anchor="end" class="t">600</text>
<text x="237.83" y="609.99" font-size="8.42" letter-spacing="0.38" text-anchor="end" class="t">400</text>
<text x="237.83" y="641.49" font-size="8.42" letter-spacing="0.38" text-anchor="end" class="t">200</text>
<text x="237.83" y="668.80" font-size="8.42" letter-spacing="0.38" text-anchor="end" class="t">0</text>
<path d="M239.68,543.00h4.12M239.68,574.50h4.12M239.68,606.00h4.12M239.68,637.50h4.12M239.68,669.00h4.12" stroke="#0c0c0c" stroke-width="1.05"/>
<path d="M241.79,661.12h2.01M241.79,653.25h2.01M241.79,645.38h2.01M241.79,629.62h2.01M241.79,621.75h2.01M241.79,613.88h2.01M241.79,598.12h2.01M241.79,590.25h2.01M241.79,582.38h2.01M241.79,566.62h2.01M241.79,558.75h2.01M241.79,550.88h2.01M241.79,535.12h2.01" stroke="#3a3a3a" stroke-width="0.81"/>
<path d="M247.5,669.0 L255.1,668.4 L261.3,667.2 L267.0,664.7 L271.4,660.3 L275.1,655.2 L277.7,647.7 L280.2,637.7 L282.7,625.1 L284.6,612.5 L284.4,610.8 L285.4,600.7 L286.5,589.3 L287.7,583.0 L289.2,578.6 L290.5,572.9 L291.1,567.2 L291.8,566.0 L292.8,567.9 L293.7,572.9 L294.6,580.5 L296.2,585.6 L297.1,593.1 L297.8,603.2 L298.7,612.1 L298.8,612.5 L300.3,625.1 L302.1,637.7 L304.0,649.0 L305.9,657.8 L307.8,664.0 L309.7,667.2 L312.2,668.7 L315.3,669.0" fill="#d0d0d0" stroke="#3c3c3c" stroke-width="1.2" stroke-linejoin="round"/>
<path d="M316.3,669.0 L321.3,667.8 L325.1,666.5 L328.2,665.3 L330.8,661.5 L333.3,656.5 L335.1,650.2 L337.0,641.4 L338.3,632.6 L339.6,622.6 L340.4,612.5 L341.0,608.3 L341.9,595.7 L342.9,585.6 L343.9,574.2 L344.8,562.8 L345.7,552.7 L346.7,545.1 L348.6,540.7 L349.5,546.4 L350.2,555.2 L351.5,562.8 L352.4,574.2 L353.0,585.6 L354.0,598.2 L354.9,610.8 L354.9,607.5 L355.6,617.6 L356.5,628.9 L357.5,638.9 L358.8,649.0 L360.3,656.5 L362.1,662.8 L364.0,666.5 L366.5,668.7 L368.4,669.0" fill="none" stroke="#3c3c3c" stroke-width="1.3" stroke-dasharray="1.25,1.05" stroke-linejoin="round"/>
<path d="M286.4,669.0 L292.7,668.4 L299.0,667.2 L304.0,665.3 L307.8,664.0 L310.9,661.5 L313.4,657.8 L316.0,652.7 L318.5,649.0 L321.6,646.5 L325.1,645.8 L327.6,641.4 L330.1,633.9 L332.0,626.4 L333.9,616.3 L335.4,607.5 L334.7,610.8 L336.4,600.7 L337.9,593.1 L339.8,591.9 L340.7,590.4 L341.7,593.1 L342.9,602.0 L344.2,610.8 L344.2,607.5 L345.4,617.6 L347.1,628.9 L348.7,640.2 L350.2,650.2 L352.1,659.0 L354.0,665.3 L356.5,668.4 L359.0,669.0" fill="none" stroke="#3c3c3c" stroke-width="1.2" stroke-linejoin="round"/>
<rect x="432.5" y="530.7" width="143.90" height="138.30" fill="none" stroke="#a6a6a6" stroke-width="1"/>
<path d="M432.1,669.0H576.9" stroke="#2a2a2a" stroke-width="1.0"/>
<path d="M432.65,669.0v4.79M473.50,669.0v4.79M514.35,669.0v4.79M555.20,669.0v4.79" stroke="#0c0c0c" stroke-width="1.44"/>
<path d="M461.20,669.0v3.06M502.05,669.0v3.06M542.90,669.0v3.06" stroke="#1a1a1a" stroke-width="1.10"/>
<path d="M444.95,669.0v2.20M452.14,669.0v2.20M457.24,669.0v2.20M464.44,669.0v2.20M467.17,669.0v2.20M469.54,669.0v2.20M471.63,669.0v2.20M485.80,669.0v2.20M492.99,669.0v2.20M498.09,669.0v2.20M505.29,669.0v2.20M508.02,669.0v2.20M510.39,669.0v2.20M512.48,669.0v2.20M526.65,669.0v2.20M533.84,669.0v2.20M538.94,669.0v2.20M546.14,669.0v2.20M548.87,669.0v2.20M551.24,669.0v2.20M553.33,669.0v2.20M567.50,669.0v2.20M574.69,669.0v2.20" stroke="#2a2a2a" stroke-width="0.77"/>
<text x="435.38" y="684.98" font-size="8.42" letter-spacing="0.38" class="t">10</text>
<text x="445.39" y="679.53" font-size="8.42" class="t">0</text>
<text x="471.73" y="684.98" font-size="8.42" letter-spacing="0.38" class="t">10</text>
<text x="481.74" y="679.53" font-size="8.42" class="t">1</text>
<text x="512.87" y="684.98" font-size="8.42" letter-spacing="0.38" class="t">10</text>
<text x="522.88" y="679.53" font-size="8.42" class="t">2</text>
<text x="554.00" y="684.98" font-size="8.42" letter-spacing="0.38" class="t">10</text>
<text x="564.02" y="679.53" font-size="8.42" class="t">3</text>
<text x="426.38" y="538.60" font-size="8.42" letter-spacing="0.38" text-anchor="end" class="t">500</text>
<text x="426.38" y="562.79" font-size="8.42" letter-spacing="0.38" text-anchor="end" class="t">400</text>
<text x="426.38" y="590.29" font-size="8.42" letter-spacing="0.38" text-anchor="end" class="t">300</text>
<text x="426.38" y="617.89" font-size="8.42" letter-spacing="0.38" text-anchor="end" class="t">200</text>
<text x="426.38" y="645.39" font-size="8.42" letter-spacing="0.38" text-anchor="end" class="t">100</text>
<text x="426.38" y="668.80" font-size="8.42" letter-spacing="0.38" text-anchor="end" class="t">0</text>
<path d="M428.38,531.20h4.12M428.38,558.80h4.12M428.38,586.30h4.12M428.38,613.90h4.12M428.38,641.40h4.12M428.38,669.00h4.12" stroke="#0c0c0c" stroke-width="1.05"/>
<path d="M430.49,662.11h2.01M430.49,655.22h2.01M430.49,648.33h2.01M430.49,634.55h2.01M430.49,627.66h2.01M430.49,620.77h2.01M430.49,606.99h2.01M430.49,600.10h2.01M430.49,593.21h2.01M430.49,579.43h2.01M430.49,572.54h2.01M430.49,565.65h2.01M430.49,551.87h2.01M430.49,544.98h2.01M430.49,538.09h2.01" stroke="#3a3a3a" stroke-width="0.81"/>
<path d="M432.7,669.0 L432.6,660.3 L433.6,667.2 L435.5,668.0 L438.7,667.2 L441.8,664.7 L445.6,661.5 L449.3,658.4 L452.5,652.7 L455.0,646.5 L457.5,640.2 L459.4,631.4 L461.3,622.6 L463.1,616.3 L464.7,607.5 L464.8,608.3 L466.3,593.1 L468.0,580.5 L469.2,569.1 L470.5,560.3 L471.8,559.0 L472.7,548.9 L473.4,542.6 L474.6,542.0 L475.6,547.7 L476.8,549.6 L478.1,557.8 L479.4,569.1 L480.6,580.5 L481.5,593.1 L482.8,605.8 L483.0,607.5 L484.2,615.1 L485.5,625.1 L487.0,636.4 L488.9,646.5 L490.8,652.7 L492.7,657.8 L494.5,661.5 L496.4,664.7 L498.3,666.5 L500.8,667.8 L503.3,668.8 L505.8,669.0" fill="#d0d0d0" stroke="#3c3c3c" stroke-width="1.2" stroke-linejoin="round"/>
<path d="M498.3,668.8 L503.3,665.9 L503.8,665.3 L507.6,662.1 L510.7,657.8 L513.2,651.5 L515.1,643.9 L517.0,633.9 L518.6,623.9 L519.9,613.8 L521.1,603.8 L520.9,608.3 L522.1,595.7 L523.8,583.0 L525.0,571.7 L526.3,560.3 L527.6,555.9 L529.1,554.6 L530.1,546.4 L531.6,540.7 L532.6,547.7 L533.5,555.9 L534.8,557.8 L535.4,567.9 L536.4,580.5 L537.7,593.1 L538.9,605.8 L539.3,608.8 L540.2,618.8 L541.2,627.6 L542.5,636.4 L544.6,641.4 L547.1,645.2 L549.6,648.3 L551.5,647.7 L554.0,652.7 L556.5,654.6 L559.0,657.8 L561.5,661.5 L564.0,664.7 L567.2,667.8 L569.7,669.0" fill="none" stroke="#3c3c3c" stroke-width="1.3" stroke-dasharray="1.25,1.05" stroke-linejoin="round"/>
<path d="M484.5,669.0 L490.8,668.4 L495.8,667.8 L499.6,667.2 L502.1,665.9 L504.6,662.8 L507.1,656.5 L508.2,652.7 L510.1,645.2 L511.9,637.7 L513.6,627.6 L515.1,616.3 L516.3,606.3 L515.8,607.0 L517.7,590.6 L519.6,580.5 L520.9,567.9 L521.8,562.8 L523.0,555.2 L524.3,553.4 L525.3,555.2 L526.3,564.1 L527.8,566.6 L528.8,572.9 L530.1,584.3 L531.4,598.2 L532.2,607.0 L532.4,610.0 L533.7,621.3 L535.2,632.6 L536.7,642.7 L538.3,649.6 L540.8,651.2 L543.3,652.1 L545.2,654.0 L547.7,653.4 L550.2,655.9 L552.8,655.2 L555.3,657.8 L557.8,660.3 L560.3,662.8 L563.4,665.9 L566.6,667.8 L570.3,669.0 L575.4,669.0" fill="none" stroke="#3c3c3c" stroke-width="1.2" stroke-linejoin="round"/>
<rect x="591.5" y="547.5" width="24" height="17" fill="#bebebe" stroke="#555" stroke-width="1"/>
<rect x="591.5" y="576.5" width="24" height="17" fill="#fff" stroke="#333" stroke-width="1" stroke-dasharray="1.4,0.8"/>
<rect x="591.5" y="607.5" width="24" height="17" fill="#fff" stroke="#555" stroke-width="1"/>
<text x="619.3" y="560.7" font-size="20" >Isotype</text>
<text x="619.5" y="591.1" font-size="20" >DMSO</text>
<text x="620.6" y="621.6" font-size="20" >JQ1</text>
<text x="101.7" y="523.6" font-size="20" >U2932</text>
<text x="283.4" y="523.2" font-size="20" >DOHH2</text>
<text x="488.3" y="523.2" font-size="20" >VAL</text>
<text x="0.1" y="524.6" font-size="24" font-weight="bold">c</text>
<text transform="translate(25.5,622.5) rotate(-90)" font-size="20">Counts</text>
<path d="M54.4,705.7H498" stroke="#000" stroke-width="1.6"/><path d="M497.0,702.4L503.8,705.7L497.0,709.0Z"/>
<text x="512.0" y="711.2" font-size="20" >CD47</text>
</svg>
</body></html>
